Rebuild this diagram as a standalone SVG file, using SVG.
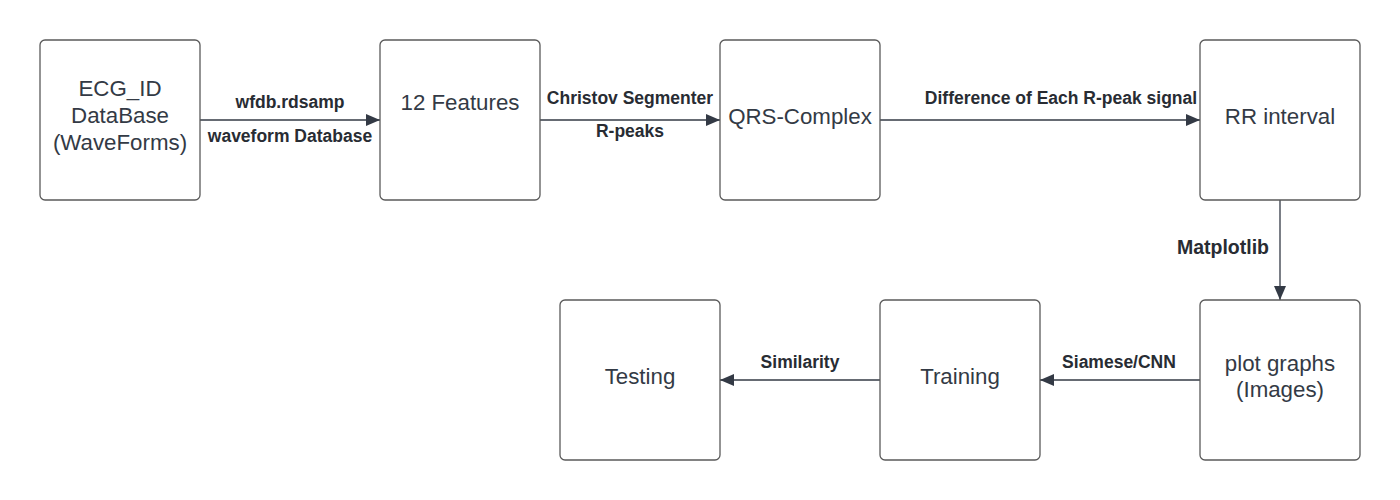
<svg xmlns="http://www.w3.org/2000/svg" width="1400" height="500" viewBox="0 0 1400 500">
<style>
.box{fill:#fff;stroke:#5a5a5a;stroke-width:1.3}
.nt{font-family:"Liberation Sans",Arial,sans-serif;font-size:22.3px;fill:#333a45;text-anchor:middle}
.el{font-family:"Liberation Sans",Arial,sans-serif;font-size:17.5px;font-weight:bold;fill:#282c33;text-anchor:middle}
.ln{stroke:#333a45;stroke-width:1.3;fill:none}
</style>
<defs>
<marker id="ah" markerWidth="14" markerHeight="12" refX="14" refY="6" orient="auto" markerUnits="userSpaceOnUse">
<path d="M0,0 L14,6 L0,12 Z" fill="#333a45"/>
</marker>
</defs>
<rect width="1400" height="500" fill="#fff"/>
<g id="connectors">
<line class="ln" x1="200" y1="120" x2="380" y2="120" marker-end="url(#ah)"/>
<line class="ln" x1="540" y1="120" x2="720" y2="120" marker-end="url(#ah)"/>
<line class="ln" x1="880" y1="120" x2="1200" y2="120" marker-end="url(#ah)"/>
<line class="ln" x1="1280" y1="200" x2="1280" y2="300" marker-end="url(#ah)"/>
<line class="ln" x1="1200" y1="380" x2="1040" y2="380" marker-end="url(#ah)"/>
<line class="ln" x1="880" y1="380" x2="720" y2="380" marker-end="url(#ah)"/>
<text class="el" x="290" y="108">wfdb.rdsamp</text>
<text class="el" x="290" y="142">waveform Database</text>
<text class="el" x="630" y="104">Christov Segmenter</text>
<text class="el" x="630" y="137">R-peaks</text>
<text class="el" x="1061" y="104">Difference of Each R-peak signal</text>
<text class="el" x="1223" y="254" style="font-size:19.5px">Matplotlib</text>
<text class="el" x="800" y="368">Similarity</text>
<text class="el" x="1119" y="368">Siamese/CNN</text>
</g>
<g id="n1"><rect class="box" x="40" y="40" width="160" height="160" rx="5"/>
<text class="nt" x="120" y="96">ECG_ID</text><text class="nt" x="120" y="123">DataBase</text><text class="nt" x="120" y="150">(WaveForms)</text></g>
<g id="n2"><rect class="box" x="380" y="40" width="160" height="160" rx="5"/>
<text class="nt" x="460" y="110">12 Features</text></g>
<g id="n3"><rect class="box" x="720" y="40" width="160" height="160" rx="5"/>
<text class="nt" x="800" y="124">QRS-Complex</text></g>
<g id="n4"><rect class="box" x="1200" y="40" width="160" height="160" rx="5"/>
<text class="nt" x="1280" y="124">RR interval</text></g>
<g id="n5"><rect class="box" x="1200" y="300" width="160" height="160" rx="5"/>
<text class="nt" x="1280" y="371">plot graphs</text><text class="nt" x="1280" y="397">(Images)</text></g>
<g id="n6"><rect class="box" x="880" y="300" width="160" height="160" rx="5"/>
<text class="nt" x="960" y="384">Training</text></g>
<g id="n7"><rect class="box" x="560" y="300" width="160" height="160" rx="5"/>
<text class="nt" x="640" y="384">Testing</text></g>
</svg>
